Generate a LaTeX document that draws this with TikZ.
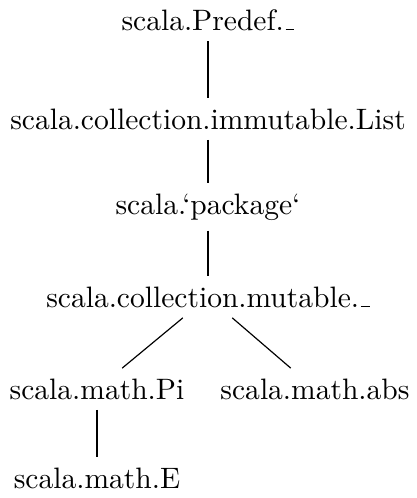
\documentclass[tikz,border=0pt]{standalone}
\newcommand{\lowbar}{\leavevmode\kern.06em\vbox{\hrule width.3em}}
\begin{document}
\begin{tikzpicture}[x=0.3385pt,y=-0.3385pt,
  pkg/.style={inner sep=0.3333em},
  link/.style={draw=black,line width=0.4pt}]
\useasboundingbox (0,0) rectangle (416,498);
\node[pkg] (predef)  at (208,20.1)  {scala.Predef.\lowbar};
\node[pkg] (list)    at (208,119) {scala.collection.immutable.List};
\node[pkg] (package) at (208,207) {scala.`package`};
\node[pkg] (mutable) at (208,297) {scala.collection.mutable.\lowbar};
\node[pkg] (pi)      at (97,389)  {scala.math.Pi};
\node[pkg] (abs)     at (315,389) {scala.math.abs};
\node[pkg] (e)       at (97,478.1)  {scala.math.E};
\draw[link] (predef) -- (list);
\draw[link] (list) -- (package);
\draw[link] (package) -- (mutable);
\draw[link] (mutable) -- (pi);
\draw[link] (mutable) -- (abs);
\draw[link] (pi) -- (e);
\end{tikzpicture}
\end{document}
